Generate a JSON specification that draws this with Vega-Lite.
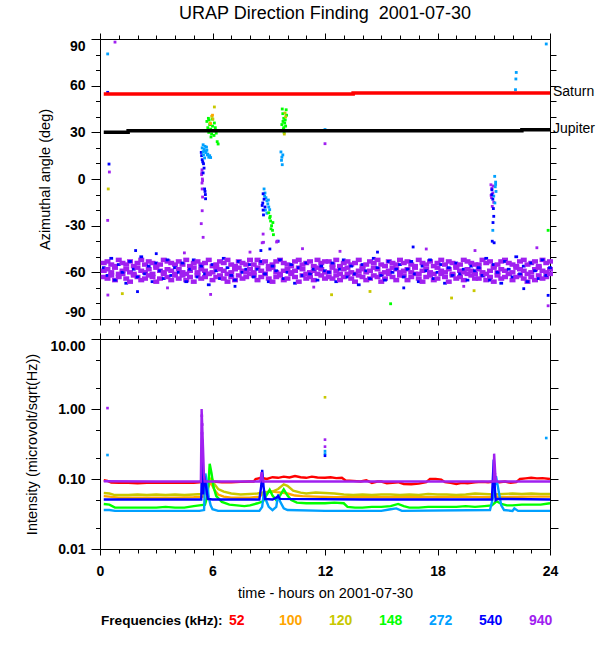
{
"$schema":"https://vega.github.io/schema/vega-lite/v6.json",
"autosize":{"type":"none"},
"padding":{"left":100,"top":39,"right":500,"bottom":611},
"datasets":{
"band":[
{"t":0.2,"a":-54,"f":"940"},{"t":0.2,"a":-59,"f":"940"},{"t":0.2,"a":-63,"f":"940"},{"t":0.2,"a":-57,"f":"540"},
{"t":0.4,"a":-53,"f":"940"},{"t":0.4,"a":-58,"f":"940"},{"t":0.4,"a":-64,"f":"940"},{"t":0.4,"a":-62,"f":"540"},
{"t":0.6,"a":-55,"f":"940"},{"t":0.6,"a":-60,"f":"940"},{"t":0.6,"a":-62,"f":"940"},{"t":0.6,"a":-51,"f":"540"},
{"t":0.8,"a":-56,"f":"940"},{"t":0.8,"a":-57,"f":"940"},{"t":0.8,"a":-65,"f":"940"},{"t":0.8,"a":-65,"f":"540"},
{"t":1.0,"a":-52,"f":"940"},{"t":1.0,"a":-61,"f":"940"},{"t":1.0,"a":-63,"f":"940"},{"t":1.0,"a":-55,"f":"540"},
{"t":1.2,"a":-54,"f":"940"},{"t":1.2,"a":-59,"f":"940"},{"t":1.2,"a":-61,"f":"940"},{"t":1.2,"a":-60,"f":"540"},
{"t":1.4,"a":-55,"f":"940"},{"t":1.4,"a":-58,"f":"940"},{"t":1.4,"a":-64,"f":"940"},{"t":1.4,"a":-67,"f":"540"},
{"t":1.6,"a":-53,"f":"940"},{"t":1.6,"a":-60,"f":"940"},{"t":1.6,"a":-66,"f":"940"},{"t":1.6,"a":-53,"f":"540"},
{"t":1.8,"a":-56,"f":"940"},{"t":1.8,"a":-61,"f":"940"},{"t":1.8,"a":-62,"f":"940"},{"t":1.8,"a":-58,"f":"540"},
{"t":2.0,"a":-54,"f":"940"},{"t":2.0,"a":-57,"f":"940"},{"t":2.0,"a":-63,"f":"940"},{"t":2.0,"a":-63,"f":"540"},
{"t":2.2,"a":-52,"f":"940"},{"t":2.2,"a":-59,"f":"940"},{"t":2.2,"a":-65,"f":"940"},{"t":2.2,"a":-50,"f":"540"},
{"t":2.4,"a":-55,"f":"940"},{"t":2.4,"a":-60,"f":"940"},{"t":2.4,"a":-64,"f":"940"},{"t":2.4,"a":-61,"f":"540"},
{"t":2.6,"a":-53,"f":"940"},{"t":2.6,"a":-58,"f":"940"},{"t":2.6,"a":-62,"f":"940"},{"t":2.6,"a":-56,"f":"540"},
{"t":2.8,"a":-54,"f":"940"},{"t":2.8,"a":-61,"f":"940"},{"t":2.8,"a":-63,"f":"940"},{"t":2.8,"a":-66,"f":"540"},
{"t":3.0,"a":-56,"f":"940"},{"t":3.0,"a":-57,"f":"940"},{"t":3.0,"a":-66,"f":"940"},{"t":3.0,"a":-54,"f":"540"},
{"t":3.2,"a":-55,"f":"940"},{"t":3.2,"a":-59,"f":"940"},{"t":3.2,"a":-64,"f":"940"},{"t":3.2,"a":-59,"f":"540"},
{"t":3.4,"a":-52,"f":"940"},{"t":3.4,"a":-60,"f":"940"},{"t":3.4,"a":-61,"f":"940"},{"t":3.4,"a":-64,"f":"540"},
{"t":3.6,"a":-53,"f":"940"},{"t":3.6,"a":-58,"f":"940"},{"t":3.6,"a":-63,"f":"940"},{"t":3.6,"a":-52,"f":"540"},
{"t":3.8,"a":-54,"f":"940"},{"t":3.8,"a":-59,"f":"940"},{"t":3.8,"a":-65,"f":"940"},{"t":3.8,"a":-62,"f":"540"},
{"t":4.0,"a":-55,"f":"940"},{"t":4.0,"a":-61,"f":"940"},{"t":4.0,"a":-62,"f":"940"},{"t":4.0,"a":-57,"f":"540"},
{"t":4.2,"a":-53,"f":"940"},{"t":4.2,"a":-58,"f":"940"},{"t":4.2,"a":-64,"f":"940"},{"t":4.2,"a":-60,"f":"540"},
{"t":4.4,"a":-55,"f":"940"},{"t":4.4,"a":-60,"f":"940"},{"t":4.4,"a":-62,"f":"940"},{"t":4.4,"a":-54,"f":"540"},
{"t":4.6,"a":-52,"f":"940"},{"t":4.6,"a":-61,"f":"940"},{"t":4.6,"a":-65,"f":"940"},{"t":4.6,"a":-66,"f":"540"},
{"t":4.8,"a":-56,"f":"940"},{"t":4.8,"a":-59,"f":"940"},{"t":4.8,"a":-63,"f":"940"},{"t":4.8,"a":-58,"f":"540"},
{"t":5.0,"a":-54,"f":"940"},{"t":5.0,"a":-57,"f":"940"},{"t":5.0,"a":-66,"f":"940"},{"t":5.0,"a":-52,"f":"540"},
{"t":5.2,"a":-53,"f":"940"},{"t":5.2,"a":-60,"f":"940"},{"t":5.2,"a":-62,"f":"940"},{"t":5.2,"a":-63,"f":"540"},
{"t":5.4,"a":-55,"f":"940"},{"t":5.4,"a":-58,"f":"940"},{"t":5.4,"a":-64,"f":"940"},{"t":5.4,"a":-56,"f":"540"},
{"t":5.6,"a":-54,"f":"940"},{"t":5.6,"a":-59,"f":"940"},{"t":5.6,"a":-63,"f":"940"},{"t":5.6,"a":-61,"f":"540"},
{"t":5.8,"a":-52,"f":"940"},{"t":5.8,"a":-61,"f":"940"},{"t":5.8,"a":-61,"f":"940"},{"t":5.8,"a":-68,"f":"540"},
{"t":6.0,"a":-56,"f":"940"},{"t":6.0,"a":-60,"f":"940"},{"t":6.0,"a":-65,"f":"940"},{"t":6.0,"a":-55,"f":"540"},
{"t":6.2,"a":-55,"f":"940"},{"t":6.2,"a":-57,"f":"940"},{"t":6.2,"a":-63,"f":"940"},{"t":6.2,"a":-59,"f":"540"},
{"t":6.4,"a":-53,"f":"940"},{"t":6.4,"a":-58,"f":"940"},{"t":6.4,"a":-62,"f":"940"},{"t":6.4,"a":-64,"f":"540"},
{"t":6.6,"a":-54,"f":"940"},{"t":6.6,"a":-59,"f":"940"},{"t":6.6,"a":-64,"f":"940"},{"t":6.6,"a":-51,"f":"540"},
{"t":6.8,"a":-52,"f":"940"},{"t":6.8,"a":-61,"f":"940"},{"t":6.8,"a":-66,"f":"940"},{"t":6.8,"a":-57,"f":"540"},
{"t":7.0,"a":-55,"f":"940"},{"t":7.0,"a":-60,"f":"940"},{"t":7.0,"a":-63,"f":"940"},{"t":7.0,"a":-62,"f":"540"},
{"t":7.2,"a":-56,"f":"940"},{"t":7.2,"a":-58,"f":"940"},{"t":7.2,"a":-65,"f":"940"},{"t":7.2,"a":-65,"f":"540"},
{"t":7.4,"a":-53,"f":"940"},{"t":7.4,"a":-57,"f":"940"},{"t":7.4,"a":-62,"f":"940"},{"t":7.4,"a":-53,"f":"540"},
{"t":7.6,"a":-54,"f":"940"},{"t":7.6,"a":-59,"f":"940"},{"t":7.6,"a":-64,"f":"940"},{"t":7.6,"a":-60,"f":"540"},
{"t":7.8,"a":-55,"f":"940"},{"t":7.8,"a":-60,"f":"940"},{"t":7.8,"a":-63,"f":"940"},{"t":7.8,"a":-58,"f":"540"},
{"t":8.0,"a":-52,"f":"940"},{"t":8.0,"a":-58,"f":"940"},{"t":8.0,"a":-61,"f":"940"},{"t":8.0,"a":-55,"f":"540"},
{"t":8.2,"a":-55,"f":"940"},{"t":8.2,"a":-60,"f":"940"},{"t":8.2,"a":-62,"f":"940"},{"t":8.2,"a":-63,"f":"540"},
{"t":8.4,"a":-52,"f":"940"},{"t":8.4,"a":-57,"f":"940"},{"t":8.4,"a":-65,"f":"940"},{"t":8.4,"a":-58,"f":"540"},
{"t":8.6,"a":-54,"f":"940"},{"t":8.6,"a":-59,"f":"940"},{"t":8.6,"a":-63,"f":"940"},{"t":8.6,"a":-53,"f":"540"},
{"t":8.8,"a":-53,"f":"940"},{"t":8.8,"a":-61,"f":"940"},{"t":8.8,"a":-61,"f":"940"},{"t":8.8,"a":-61,"f":"540"},
{"t":9.0,"a":-56,"f":"940"},{"t":9.0,"a":-58,"f":"940"},{"t":9.0,"a":-64,"f":"940"},{"t":9.0,"a":-66,"f":"540"},
{"t":9.2,"a":-55,"f":"940"},{"t":9.2,"a":-57,"f":"940"},{"t":9.2,"a":-66,"f":"940"},{"t":9.2,"a":-56,"f":"540"},
{"t":9.4,"a":-53,"f":"940"},{"t":9.4,"a":-60,"f":"940"},{"t":9.4,"a":-63,"f":"940"},{"t":9.4,"a":-59,"f":"540"},
{"t":9.6,"a":-52,"f":"940"},{"t":9.6,"a":-61,"f":"940"},{"t":9.6,"a":-62,"f":"940"},{"t":9.6,"a":-52,"f":"540"},
{"t":9.8,"a":-54,"f":"940"},{"t":9.8,"a":-59,"f":"940"},{"t":9.8,"a":-65,"f":"940"},{"t":9.8,"a":-64,"f":"540"},
{"t":10.0,"a":-55,"f":"940"},{"t":10.0,"a":-58,"f":"940"},{"t":10.0,"a":-64,"f":"940"},{"t":10.0,"a":-60,"f":"540"},
{"t":10.2,"a":-56,"f":"940"},{"t":10.2,"a":-60,"f":"940"},{"t":10.2,"a":-61,"f":"940"},{"t":10.2,"a":-55,"f":"540"},
{"t":10.4,"a":-53,"f":"940"},{"t":10.4,"a":-59,"f":"940"},{"t":10.4,"a":-63,"f":"940"},{"t":10.4,"a":-67,"f":"540"},
{"t":10.6,"a":-52,"f":"940"},{"t":10.6,"a":-57,"f":"940"},{"t":10.6,"a":-66,"f":"940"},{"t":10.6,"a":-57,"f":"540"},
{"t":10.8,"a":-55,"f":"940"},{"t":10.8,"a":-58,"f":"940"},{"t":10.8,"a":-62,"f":"940"},{"t":10.8,"a":-62,"f":"540"},
{"t":11.0,"a":-54,"f":"940"},{"t":11.0,"a":-61,"f":"940"},{"t":11.0,"a":-64,"f":"940"},{"t":11.0,"a":-54,"f":"540"},
{"t":11.2,"a":-53,"f":"940"},{"t":11.2,"a":-60,"f":"940"},{"t":11.2,"a":-63,"f":"940"},{"t":11.2,"a":-61,"f":"540"},
{"t":11.4,"a":-56,"f":"940"},{"t":11.4,"a":-59,"f":"940"},{"t":11.4,"a":-65,"f":"940"},{"t":11.4,"a":-58,"f":"540"},
{"t":11.6,"a":-52,"f":"940"},{"t":11.6,"a":-57,"f":"940"},{"t":11.6,"a":-61,"f":"940"},{"t":11.6,"a":-65,"f":"540"},
{"t":11.8,"a":-54,"f":"940"},{"t":11.8,"a":-58,"f":"940"},{"t":11.8,"a":-62,"f":"940"},{"t":11.8,"a":-56,"f":"540"},
{"t":12.0,"a":-53,"f":"940"},{"t":12.0,"a":-60,"f":"940"},{"t":12.0,"a":-64,"f":"940"},{"t":12.0,"a":-59,"f":"540"},
{"t":12.2,"a":-53,"f":"940"},{"t":12.2,"a":-60,"f":"940"},{"t":12.2,"a":-63,"f":"940"},{"t":12.2,"a":-60,"f":"540"},
{"t":12.4,"a":-55,"f":"940"},{"t":12.4,"a":-57,"f":"940"},{"t":12.4,"a":-64,"f":"940"},{"t":12.4,"a":-54,"f":"540"},
{"t":12.6,"a":-52,"f":"940"},{"t":12.6,"a":-59,"f":"940"},{"t":12.6,"a":-62,"f":"940"},{"t":12.6,"a":-66,"f":"540"},
{"t":12.8,"a":-56,"f":"940"},{"t":12.8,"a":-61,"f":"940"},{"t":12.8,"a":-65,"f":"940"},{"t":12.8,"a":-58,"f":"540"},
{"t":13.0,"a":-54,"f":"940"},{"t":13.0,"a":-58,"f":"940"},{"t":13.0,"a":-63,"f":"940"},{"t":13.0,"a":-52,"f":"540"},
{"t":13.2,"a":-53,"f":"940"},{"t":13.2,"a":-57,"f":"940"},{"t":13.2,"a":-61,"f":"940"},{"t":13.2,"a":-63,"f":"540"},
{"t":13.4,"a":-55,"f":"940"},{"t":13.4,"a":-60,"f":"940"},{"t":13.4,"a":-64,"f":"940"},{"t":13.4,"a":-56,"f":"540"},
{"t":13.6,"a":-54,"f":"940"},{"t":13.6,"a":-61,"f":"940"},{"t":13.6,"a":-66,"f":"940"},{"t":13.6,"a":-61,"f":"540"},
{"t":13.8,"a":-52,"f":"940"},{"t":13.8,"a":-59,"f":"940"},{"t":13.8,"a":-62,"f":"940"},{"t":13.8,"a":-68,"f":"540"},
{"t":14.0,"a":-56,"f":"940"},{"t":14.0,"a":-58,"f":"940"},{"t":14.0,"a":-63,"f":"940"},{"t":14.0,"a":-55,"f":"540"},
{"t":14.2,"a":-55,"f":"940"},{"t":14.2,"a":-60,"f":"940"},{"t":14.2,"a":-65,"f":"940"},{"t":14.2,"a":-59,"f":"540"},
{"t":14.4,"a":-53,"f":"940"},{"t":14.4,"a":-59,"f":"940"},{"t":14.4,"a":-64,"f":"940"},{"t":14.4,"a":-64,"f":"540"},
{"t":14.6,"a":-54,"f":"940"},{"t":14.6,"a":-57,"f":"940"},{"t":14.6,"a":-62,"f":"940"},{"t":14.6,"a":-51,"f":"540"},
{"t":14.8,"a":-52,"f":"940"},{"t":14.8,"a":-58,"f":"940"},{"t":14.8,"a":-63,"f":"940"},{"t":14.8,"a":-57,"f":"540"},
{"t":15.0,"a":-55,"f":"940"},{"t":15.0,"a":-61,"f":"940"},{"t":15.0,"a":-66,"f":"940"},{"t":15.0,"a":-62,"f":"540"},
{"t":15.2,"a":-56,"f":"940"},{"t":15.2,"a":-60,"f":"940"},{"t":15.2,"a":-64,"f":"940"},{"t":15.2,"a":-65,"f":"540"},
{"t":15.4,"a":-53,"f":"940"},{"t":15.4,"a":-59,"f":"940"},{"t":15.4,"a":-61,"f":"940"},{"t":15.4,"a":-53,"f":"540"},
{"t":15.6,"a":-54,"f":"940"},{"t":15.6,"a":-57,"f":"940"},{"t":15.6,"a":-63,"f":"940"},{"t":15.6,"a":-60,"f":"540"},
{"t":15.8,"a":-55,"f":"940"},{"t":15.8,"a":-58,"f":"940"},{"t":15.8,"a":-65,"f":"940"},{"t":15.8,"a":-58,"f":"540"},
{"t":16.0,"a":-52,"f":"940"},{"t":16.0,"a":-60,"f":"940"},{"t":16.0,"a":-62,"f":"940"},{"t":16.0,"a":-55,"f":"540"},
{"t":16.2,"a":-54,"f":"940"},{"t":16.2,"a":-59,"f":"940"},{"t":16.2,"a":-62,"f":"940"},{"t":16.2,"a":-63,"f":"540"},
{"t":16.4,"a":-53,"f":"940"},{"t":16.4,"a":-58,"f":"940"},{"t":16.4,"a":-65,"f":"940"},{"t":16.4,"a":-58,"f":"540"},
{"t":16.6,"a":-55,"f":"940"},{"t":16.6,"a":-60,"f":"940"},{"t":16.6,"a":-63,"f":"940"},{"t":16.6,"a":-53,"f":"540"},
{"t":16.8,"a":-56,"f":"940"},{"t":16.8,"a":-57,"f":"940"},{"t":16.8,"a":-61,"f":"940"},{"t":16.8,"a":-61,"f":"540"},
{"t":17.0,"a":-52,"f":"940"},{"t":17.0,"a":-61,"f":"940"},{"t":17.0,"a":-64,"f":"940"},{"t":17.0,"a":-66,"f":"540"},
{"t":17.2,"a":-54,"f":"940"},{"t":17.2,"a":-59,"f":"940"},{"t":17.2,"a":-66,"f":"940"},{"t":17.2,"a":-56,"f":"540"},
{"t":17.4,"a":-55,"f":"940"},{"t":17.4,"a":-58,"f":"940"},{"t":17.4,"a":-63,"f":"940"},{"t":17.4,"a":-59,"f":"540"},
{"t":17.6,"a":-53,"f":"940"},{"t":17.6,"a":-60,"f":"940"},{"t":17.6,"a":-62,"f":"940"},{"t":17.6,"a":-52,"f":"540"},
{"t":17.8,"a":-56,"f":"940"},{"t":17.8,"a":-61,"f":"940"},{"t":17.8,"a":-65,"f":"940"},{"t":17.8,"a":-64,"f":"540"},
{"t":18.0,"a":-54,"f":"940"},{"t":18.0,"a":-57,"f":"940"},{"t":18.0,"a":-64,"f":"940"},{"t":18.0,"a":-60,"f":"540"},
{"t":18.2,"a":-52,"f":"940"},{"t":18.2,"a":-59,"f":"940"},{"t":18.2,"a":-61,"f":"940"},{"t":18.2,"a":-55,"f":"540"},
{"t":18.4,"a":-55,"f":"940"},{"t":18.4,"a":-60,"f":"940"},{"t":18.4,"a":-63,"f":"940"},{"t":18.4,"a":-67,"f":"540"},
{"t":18.6,"a":-53,"f":"940"},{"t":18.6,"a":-58,"f":"940"},{"t":18.6,"a":-66,"f":"940"},{"t":18.6,"a":-57,"f":"540"},
{"t":18.8,"a":-54,"f":"940"},{"t":18.8,"a":-61,"f":"940"},{"t":18.8,"a":-62,"f":"940"},{"t":18.8,"a":-62,"f":"540"},
{"t":19.0,"a":-56,"f":"940"},{"t":19.0,"a":-57,"f":"940"},{"t":19.0,"a":-64,"f":"940"},{"t":19.0,"a":-54,"f":"540"},
{"t":19.2,"a":-55,"f":"940"},{"t":19.2,"a":-59,"f":"940"},{"t":19.2,"a":-63,"f":"940"},{"t":19.2,"a":-61,"f":"540"},
{"t":19.4,"a":-52,"f":"940"},{"t":19.4,"a":-60,"f":"940"},{"t":19.4,"a":-65,"f":"940"},{"t":19.4,"a":-58,"f":"540"},
{"t":19.6,"a":-53,"f":"940"},{"t":19.6,"a":-58,"f":"940"},{"t":19.6,"a":-61,"f":"940"},{"t":19.6,"a":-65,"f":"540"},
{"t":19.8,"a":-54,"f":"940"},{"t":19.8,"a":-59,"f":"940"},{"t":19.8,"a":-62,"f":"940"},{"t":19.8,"a":-56,"f":"540"},
{"t":20.0,"a":-55,"f":"940"},{"t":20.0,"a":-61,"f":"940"},{"t":20.0,"a":-64,"f":"940"},{"t":20.0,"a":-59,"f":"540"},
{"t":20.2,"a":-55,"f":"940"},{"t":20.2,"a":-58,"f":"940"},{"t":20.2,"a":-64,"f":"940"},{"t":20.2,"a":-57,"f":"540"},
{"t":20.4,"a":-52,"f":"940"},{"t":20.4,"a":-60,"f":"940"},{"t":20.4,"a":-62,"f":"940"},{"t":20.4,"a":-62,"f":"540"},
{"t":20.6,"a":-54,"f":"940"},{"t":20.6,"a":-61,"f":"940"},{"t":20.6,"a":-65,"f":"940"},{"t":20.6,"a":-51,"f":"540"},
{"t":20.8,"a":-53,"f":"940"},{"t":20.8,"a":-59,"f":"940"},{"t":20.8,"a":-63,"f":"940"},{"t":20.8,"a":-65,"f":"540"},
{"t":21.0,"a":-56,"f":"940"},{"t":21.0,"a":-57,"f":"940"},{"t":21.0,"a":-66,"f":"940"},{"t":21.0,"a":-55,"f":"540"},
{"t":21.2,"a":-55,"f":"940"},{"t":21.2,"a":-60,"f":"940"},{"t":21.2,"a":-62,"f":"940"},{"t":21.2,"a":-60,"f":"540"},
{"t":21.4,"a":-53,"f":"940"},{"t":21.4,"a":-58,"f":"940"},{"t":21.4,"a":-64,"f":"940"},{"t":21.4,"a":-67,"f":"540"},
{"t":21.6,"a":-52,"f":"940"},{"t":21.6,"a":-59,"f":"940"},{"t":21.6,"a":-63,"f":"940"},{"t":21.6,"a":-53,"f":"540"},
{"t":21.8,"a":-54,"f":"940"},{"t":21.8,"a":-61,"f":"940"},{"t":21.8,"a":-61,"f":"940"},{"t":21.8,"a":-58,"f":"540"},
{"t":22.0,"a":-55,"f":"940"},{"t":22.0,"a":-60,"f":"940"},{"t":22.0,"a":-65,"f":"940"},{"t":22.0,"a":-63,"f":"540"},
{"t":22.2,"a":-56,"f":"940"},{"t":22.2,"a":-57,"f":"940"},{"t":22.2,"a":-63,"f":"940"},{"t":22.2,"a":-50,"f":"540"},
{"t":22.4,"a":-53,"f":"940"},{"t":22.4,"a":-58,"f":"940"},{"t":22.4,"a":-62,"f":"940"},{"t":22.4,"a":-61,"f":"540"},
{"t":22.6,"a":-52,"f":"940"},{"t":22.6,"a":-59,"f":"940"},{"t":22.6,"a":-64,"f":"940"},{"t":22.6,"a":-56,"f":"540"},
{"t":22.8,"a":-55,"f":"940"},{"t":22.8,"a":-61,"f":"940"},{"t":22.8,"a":-66,"f":"940"},{"t":22.8,"a":-66,"f":"540"},
{"t":23.0,"a":-54,"f":"940"},{"t":23.0,"a":-60,"f":"940"},{"t":23.0,"a":-63,"f":"940"},{"t":23.0,"a":-54,"f":"540"},
{"t":23.2,"a":-53,"f":"940"},{"t":23.2,"a":-58,"f":"940"},{"t":23.2,"a":-65,"f":"940"},{"t":23.2,"a":-59,"f":"540"},
{"t":23.4,"a":-56,"f":"940"},{"t":23.4,"a":-57,"f":"940"},{"t":23.4,"a":-62,"f":"940"},{"t":23.4,"a":-64,"f":"540"},
{"t":23.6,"a":-52,"f":"940"},{"t":23.6,"a":-59,"f":"940"},{"t":23.6,"a":-64,"f":"940"},{"t":23.6,"a":-52,"f":"540"},
{"t":23.8,"a":-54,"f":"940"},{"t":23.8,"a":-60,"f":"940"},{"t":23.8,"a":-63,"f":"940"},{"t":23.8,"a":-62,"f":"540"},
{"t":24.0,"a":-53,"f":"940"},{"t":24.0,"a":-58,"f":"940"},{"t":24.0,"a":-61,"f":"940"},{"t":24.0,"a":-57,"f":"540"}
],
"ev":[
{"t":0.41,"a":80.4,"f":"272"},{"t":0.8,"a":88,"f":"940"},{"t":0.41,"a":55.7,"f":"540"},{"t":0.48,"a":9.6,"f":"540"},{"t":0.5,"a":4.5,"f":"940"},{"t":0.44,"a":-6.4,"f":"120"},{"t":0.41,"a":-26.6,"f":"940"},
{"t":5.44,"a":5.9,"f":"940"},{"t":5.42,"a":2.8,"f":"940"},{"t":5.46,"a":0,"f":"940"},{"t":5.44,"a":-2.6,"f":"940"},{"t":5.45,"a":-6.4,"f":"940"},{"t":5.47,"a":-11.6,"f":"940"},{"t":5.45,"a":-20.4,"f":"940"},{"t":5.4,"a":-28.7,"f":"940"},{"t":5.5,"a":-37.5,"f":"940"},{"t":5.43,"a":4,"f":"940"},{"t":5.47,"a":-1,"f":"940"},
{"t":5.4,"a":17.1,"f":"540"},{"t":5.45,"a":12.4,"f":"540"},{"t":5.52,"a":9.8,"f":"540"},{"t":5.55,"a":7,"f":"540"},{"t":5.5,"a":3.9,"f":"540"},{"t":5.58,"a":-6.4,"f":"540"},{"t":5.62,"a":-10,"f":"540"},{"t":5.6,"a":-8,"f":"540"},{"t":5.63,"a":-12.7,"f":"540"},{"t":5.42,"a":15,"f":"540"},{"t":5.48,"a":11,"f":"540"},
{"t":5.45,"a":20,"f":"272"},{"t":5.5,"a":22,"f":"272"},{"t":5.55,"a":19,"f":"272"},{"t":5.6,"a":21,"f":"272"},{"t":5.65,"a":17,"f":"272"},{"t":5.7,"a":18.5,"f":"272"},{"t":5.75,"a":16,"f":"272"},{"t":5.8,"a":14,"f":"272"},{"t":5.52,"a":15.5,"f":"272"},{"t":5.58,"a":13.5,"f":"272"},{"t":5.68,"a":20.5,"f":"272"},{"t":5.85,"a":15,"f":"272"},{"t":5.9,"a":13.8,"f":"272"},{"t":5.62,"a":18,"f":"272"},{"t":5.72,"a":15.5,"f":"272"},{"t":5.5,"a":17.5,"f":"272"},
{"t":5.7,"a":37,"f":"148"},{"t":5.75,"a":33,"f":"148"},{"t":5.8,"a":30,"f":"148"},{"t":5.85,"a":35,"f":"148"},{"t":5.9,"a":32,"f":"148"},{"t":5.95,"a":29,"f":"148"},{"t":6.0,"a":34,"f":"148"},{"t":6.05,"a":31,"f":"148"},{"t":6.1,"a":36,"f":"148"},{"t":6.15,"a":33,"f":"148"},{"t":6.2,"a":29.5,"f":"148"},{"t":5.82,"a":38,"f":"148"},{"t":5.92,"a":27,"f":"148"},{"t":6.25,"a":24,"f":"148"},{"t":6.3,"a":22.5,"f":"148"},{"t":5.78,"a":39,"f":"148"},{"t":6.0,"a":38.5,"f":"148"},{"t":6.08,"a":28,"f":"148"},
{"t":6.1,"a":46.3,"f":"120"},{"t":5.96,"a":40.3,"f":"120"},{"t":5.87,"a":36,"f":"120"},{"t":6.02,"a":38.5,"f":"120"},
{"t":5.9,"a":35.6,"f":"100"},{"t":6.0,"a":41,"f":"100"},
{"t":8.75,"a":-6.4,"f":"272"},{"t":8.8,"a":-9,"f":"272"},{"t":8.85,"a":-12,"f":"272"},{"t":8.9,"a":-14,"f":"272"},{"t":8.95,"a":-16,"f":"272"},{"t":9.0,"a":-18,"f":"272"},{"t":9.05,"a":-19.7,"f":"272"},{"t":8.82,"a":-20,"f":"272"},{"t":8.9,"a":-22,"f":"272"},{"t":8.78,"a":-11,"f":"272"},{"t":8.98,"a":-13.5,"f":"272"},
{"t":8.7,"a":-9.5,"f":"540"},{"t":8.68,"a":-15.4,"f":"540"},{"t":8.72,"a":-23.1,"f":"540"},{"t":8.75,"a":-13,"f":"540"},{"t":8.8,"a":-18,"f":"540"},{"t":8.7,"a":-20,"f":"540"},{"t":8.58,"a":-46,"f":"540"},{"t":9.06,"a":-45,"f":"540"},{"t":8.65,"a":-17,"f":"540"},{"t":9.5,"a":-40,"f":"540"},
{"t":9.0,"a":-21.7,"f":"148"},{"t":9.05,"a":-25,"f":"148"},{"t":9.1,"a":-27,"f":"148"},{"t":9.15,"a":-30,"f":"148"},{"t":9.2,"a":-33,"f":"148"},{"t":9.25,"a":-35.8,"f":"148"},{"t":9.12,"a":-32,"f":"148"},{"t":9.08,"a":-24,"f":"148"},{"t":9.22,"a":-28,"f":"148"},
{"t":8.7,"a":-35.4,"f":"940"},{"t":8.72,"a":-40.7,"f":"940"},{"t":9.45,"a":-40,"f":"940"},{"t":8.65,"a":-41,"f":"940"},{"t":9.42,"a":-40.5,"f":"940"},
{"t":9.72,"a":45,"f":"148"},{"t":9.75,"a":42,"f":"148"},{"t":9.8,"a":39,"f":"148"},{"t":9.85,"a":36,"f":"148"},{"t":9.9,"a":34,"f":"148"},{"t":9.78,"a":32,"f":"148"},{"t":9.82,"a":30,"f":"148"},{"t":9.88,"a":38,"f":"148"},{"t":9.95,"a":41,"f":"148"},{"t":9.7,"a":35,"f":"148"},{"t":9.76,"a":37,"f":"148"},{"t":9.93,"a":44.5,"f":"148"},{"t":9.8,"a":33,"f":"148"},
{"t":9.87,"a":42.4,"f":"120"},{"t":9.83,"a":28.9,"f":"120"},{"t":9.9,"a":40,"f":"120"},
{"t":9.65,"a":17.4,"f":"272"},{"t":9.7,"a":14,"f":"272"},{"t":9.68,"a":12,"f":"272"},{"t":9.72,"a":9.2,"f":"272"},{"t":9.75,"a":15.5,"f":"272"},
{"t":12.0,"a":31.8,"f":"272"},{"t":12.0,"a":22.7,"f":"940"},
{"t":20.85,"a":-3.7,"f":"940"},{"t":20.9,"a":-6,"f":"940"},{"t":20.95,"a":-9,"f":"940"},{"t":20.88,"a":-12,"f":"940"},{"t":21.0,"a":-15,"f":"940"},{"t":20.92,"a":-17.6,"f":"940"},{"t":20.97,"a":-4.5,"f":"940"},{"t":20.86,"a":-10.5,"f":"940"},
{"t":21.05,"a":1.7,"f":"272"},{"t":21.1,"a":-2,"f":"272"},{"t":21.08,"a":-5,"f":"272"},{"t":21.12,"a":-8,"f":"272"},{"t":21.0,"a":-11,"f":"272"},{"t":21.06,"a":-15.4,"f":"272"},{"t":20.95,"a":-33,"f":"272"},{"t":21.1,"a":-3.5,"f":"272"},
{"t":20.9,"a":-6.9,"f":"540"},{"t":20.95,"a":-13,"f":"540"},{"t":20.98,"a":-19,"f":"540"},{"t":21.0,"a":-24,"f":"540"},{"t":20.96,"a":-28,"f":"540"},{"t":21.02,"a":-41,"f":"540"},{"t":20.92,"a":-40,"f":"540"},{"t":20.9,"a":-10,"f":"540"},
{"t":22.2,"a":68.5,"f":"272"},{"t":22.18,"a":64.3,"f":"272"},{"t":22.16,"a":57.4,"f":"272"},{"t":23.8,"a":86.8,"f":"272"},{"t":23.9,"a":-33,"f":"148"},
{"t":1.19,"a":-73.7,"f":"120"},{"t":0.42,"a":-74.6,"f":"940"},{"t":2.0,"a":-72.4,"f":"540"},{"t":5.9,"a":-74.2,"f":"940"},{"t":12.35,"a":-74.4,"f":"120"},{"t":14.4,"a":-72.3,"f":"120"},{"t":15.5,"a":-80.2,"f":"148"},{"t":18.75,"a":-76.5,"f":"120"},{"t":19.95,"a":-71.8,"f":"120"},{"t":23.9,"a":-74.8,"f":"540"},{"t":23.9,"a":-81.5,"f":"940"},
{"t":17.4,"a":-45,"f":"940"},{"t":16.7,"a":-43.7,"f":"540"},{"t":10.8,"a":-44.8,"f":"940"},{"t":23.3,"a":-44.2,"f":"940"},{"t":3.0,"a":-48,"f":"540"},{"t":1.9,"a":-46,"f":"540"},{"t":8.0,"a":-47,"f":"940"},{"t":4.5,"a":-47.5,"f":"940"},{"t":12.8,"a":-46.5,"f":"940"},{"t":20.0,"a":-46,"f":"940"},{"t":14.8,"a":-47,"f":"540"},
{"t":7.2,"a":-69,"f":"540"},{"t":3.6,"a":-70,"f":"940"},{"t":11.4,"a":-69.5,"f":"940"},{"t":16.2,"a":-70,"f":"540"},{"t":19.4,"a":-69,"f":"940"},{"t":22.6,"a":-70.5,"f":"540"}
],
"sat":[{"t":0.2,"a":54.7},{"t":13.5,"a":54.7},{"t":13.5,"a":55.3},{"t":24,"a":55.3}],
"jup":[{"t":0.2,"a":30.1},{"t":1.5,"a":30.1},{"t":1.5,"a":31.0},{"t":22.5,"a":31.0},{"t":22.5,"a":31.6},{"t":24,"a":31.6}],
"pl":[{"t":24,"a":55.3,"l":"Saturn"},{"t":24,"a":31.6,"l":"Jupiter"}],
"int":[
{"t":0.2,"v":0.096,"f":"52"},{"t":0.4,"v":0.094,"f":"52"},{"t":0.6,"v":0.089,"f":"52"},{"t":1,"v":0.088,"f":"52"},{"t":1.5,"v":0.088,"f":"52"},{"t":2,"v":0.087,"f":"52"},{"t":2.5,"v":0.088,"f":"52"},{"t":3,"v":0.088,"f":"52"},{"t":3.5,"v":0.089,"f":"52"},{"t":4,"v":0.088,"f":"52"},{"t":4.5,"v":0.089,"f":"52"},{"t":5,"v":0.088,"f":"52"},{"t":5.3,"v":0.09,"f":"52"},{"t":5.6,"v":0.095,"f":"52"},{"t":5.8,"v":0.09,"f":"52"},{"t":6,"v":0.092,"f":"52"},{"t":6.5,"v":0.09,"f":"52"},{"t":7,"v":0.09,"f":"52"},{"t":7.5,"v":0.091,"f":"52"},{"t":8,"v":0.092,"f":"52"},{"t":8.2,"v":0.092,"f":"52"},{"t":8.3,"v":0.1,"f":"52"},{"t":8.6,"v":0.104,"f":"52"},{"t":8.9,"v":0.1,"f":"52"},{"t":9.2,"v":0.106,"f":"52"},{"t":9.5,"v":0.104,"f":"52"},{"t":9.8,"v":0.108,"f":"52"},{"t":10.1,"v":0.105,"f":"52"},{"t":10.4,"v":0.11,"f":"52"},{"t":10.7,"v":0.106,"f":"52"},{"t":11,"v":0.104,"f":"52"},{"t":11.3,"v":0.108,"f":"52"},{"t":11.6,"v":0.105,"f":"52"},{"t":12,"v":0.104,"f":"52"},{"t":12.3,"v":0.106,"f":"52"},{"t":12.6,"v":0.103,"f":"52"},{"t":12.9,"v":0.104,"f":"52"},{"t":13.1,"v":0.095,"f":"52"},{"t":13.5,"v":0.094,"f":"52"},{"t":13.9,"v":0.092,"f":"52"},{"t":14.2,"v":0.096,"f":"52"},{"t":14.5,"v":0.088,"f":"52"},{"t":14.8,"v":0.092,"f":"52"},{"t":15,"v":0.092,"f":"52"},{"t":15.3,"v":0.087,"f":"52"},{"t":15.6,"v":0.088,"f":"52"},{"t":15.9,"v":0.09,"f":"52"},{"t":16.2,"v":0.085,"f":"52"},{"t":16.6,"v":0.084,"f":"52"},{"t":17,"v":0.086,"f":"52"},{"t":17.4,"v":0.09,"f":"52"},{"t":17.6,"v":0.1,"f":"52"},{"t":17.9,"v":0.1,"f":"52"},{"t":18.2,"v":0.098,"f":"52"},{"t":18.4,"v":0.09,"f":"52"},{"t":18.7,"v":0.088,"f":"52"},{"t":19,"v":0.085,"f":"52"},{"t":19.3,"v":0.088,"f":"52"},{"t":19.6,"v":0.087,"f":"52"},{"t":20,"v":0.09,"f":"52"},{"t":20.4,"v":0.091,"f":"52"},{"t":20.7,"v":0.09,"f":"52"},{"t":21,"v":0.092,"f":"52"},{"t":21.3,"v":0.09,"f":"52"},{"t":21.6,"v":0.092,"f":"52"},{"t":21.9,"v":0.088,"f":"52"},{"t":22.2,"v":0.09,"f":"52"},{"t":22.4,"v":0.1,"f":"52"},{"t":22.7,"v":0.102,"f":"52"},{"t":23,"v":0.104,"f":"52"},{"t":23.3,"v":0.102,"f":"52"},{"t":23.6,"v":0.103,"f":"52"},{"t":24,"v":0.1,"f":"52"},
{"t":0.2,"v":0.057,"f":"100"},{"t":0.5,"v":0.056,"f":"100"},{"t":1,"v":0.054,"f":"100"},{"t":2,"v":0.054,"f":"100"},{"t":3,"v":0.054,"f":"100"},{"t":4,"v":0.054,"f":"100"},{"t":5,"v":0.055,"f":"100"},{"t":5.5,"v":0.056,"f":"100"},{"t":5.7,"v":0.07,"f":"100"},{"t":5.9,"v":0.09,"f":"100"},{"t":6.1,"v":0.07,"f":"100"},{"t":6.3,"v":0.06,"f":"100"},{"t":6.6,"v":0.056,"f":"100"},{"t":7,"v":0.054,"f":"100"},{"t":8,"v":0.054,"f":"100"},{"t":8.5,"v":0.056,"f":"100"},{"t":8.8,"v":0.064,"f":"100"},{"t":9.1,"v":0.067,"f":"100"},{"t":9.4,"v":0.065,"f":"100"},{"t":9.7,"v":0.064,"f":"100"},{"t":10,"v":0.062,"f":"100"},{"t":10.4,"v":0.058,"f":"100"},{"t":10.8,"v":0.057,"f":"100"},{"t":11.5,"v":0.056,"f":"100"},{"t":12.5,"v":0.055,"f":"100"},{"t":14,"v":0.055,"f":"100"},{"t":16,"v":0.055,"f":"100"},{"t":18,"v":0.055,"f":"100"},{"t":19,"v":0.056,"f":"100"},{"t":20.8,"v":0.055,"f":"100"},{"t":21,"v":0.057,"f":"100"},{"t":21.3,"v":0.055,"f":"100"},{"t":23,"v":0.056,"f":"100"},{"t":24,"v":0.056,"f":"100"},
{"t":0.2,"v":0.063,"f":"120"},{"t":0.5,"v":0.062,"f":"120"},{"t":0.8,"v":0.059,"f":"120"},{"t":1.5,"v":0.059,"f":"120"},{"t":2,"v":0.06,"f":"120"},{"t":2.5,"v":0.059,"f":"120"},{"t":3,"v":0.06,"f":"120"},{"t":3.5,"v":0.059,"f":"120"},{"t":4,"v":0.06,"f":"120"},{"t":4.5,"v":0.059,"f":"120"},{"t":5,"v":0.06,"f":"120"},{"t":5.4,"v":0.061,"f":"120"},{"t":5.7,"v":0.08,"f":"120"},{"t":5.95,"v":0.104,"f":"120"},{"t":6.1,"v":0.085,"f":"120"},{"t":6.3,"v":0.072,"f":"120"},{"t":6.6,"v":0.066,"f":"120"},{"t":7,"v":0.062,"f":"120"},{"t":7.5,"v":0.06,"f":"120"},{"t":8,"v":0.061,"f":"120"},{"t":8.4,"v":0.062,"f":"120"},{"t":8.8,"v":0.065,"f":"120"},{"t":9.2,"v":0.066,"f":"120"},{"t":9.5,"v":0.072,"f":"120"},{"t":9.8,"v":0.084,"f":"120"},{"t":10,"v":0.08,"f":"120"},{"t":10.3,"v":0.068,"f":"120"},{"t":10.7,"v":0.064,"f":"120"},{"t":11,"v":0.062,"f":"120"},{"t":11.5,"v":0.064,"f":"120"},{"t":12,"v":0.063,"f":"120"},{"t":12.5,"v":0.062,"f":"120"},{"t":13,"v":0.06,"f":"120"},{"t":13.5,"v":0.059,"f":"120"},{"t":14,"v":0.06,"f":"120"},{"t":14.5,"v":0.059,"f":"120"},{"t":15,"v":0.06,"f":"120"},{"t":15.5,"v":0.06,"f":"120"},{"t":16,"v":0.059,"f":"120"},{"t":16.5,"v":0.06,"f":"120"},{"t":17,"v":0.059,"f":"120"},{"t":17.5,"v":0.061,"f":"120"},{"t":18,"v":0.06,"f":"120"},{"t":18.5,"v":0.06,"f":"120"},{"t":19,"v":0.059,"f":"120"},{"t":19.5,"v":0.06,"f":"120"},{"t":20,"v":0.062,"f":"120"},{"t":20.5,"v":0.061,"f":"120"},{"t":21,"v":0.06,"f":"120"},{"t":21.5,"v":0.061,"f":"120"},{"t":22,"v":0.062,"f":"120"},{"t":22.5,"v":0.061,"f":"120"},{"t":23,"v":0.062,"f":"120"},{"t":23.5,"v":0.061,"f":"120"},{"t":24,"v":0.061,"f":"120"},
{"t":0.2,"v":0.044,"f":"148"},{"t":0.5,"v":0.043,"f":"148"},{"t":0.8,"v":0.039,"f":"148"},{"t":1.5,"v":0.039,"f":"148"},{"t":2,"v":0.039,"f":"148"},{"t":2.5,"v":0.039,"f":"148"},{"t":3,"v":0.039,"f":"148"},{"t":3.5,"v":0.04,"f":"148"},{"t":4,"v":0.039,"f":"148"},{"t":4.5,"v":0.039,"f":"148"},{"t":5,"v":0.041,"f":"148"},{"t":5.3,"v":0.042,"f":"148"},{"t":5.6,"v":0.043,"f":"148"},{"t":5.75,"v":0.06,"f":"148"},{"t":5.85,"v":0.165,"f":"148"},{"t":5.95,"v":0.12,"f":"148"},{"t":6.05,"v":0.078,"f":"148"},{"t":6.2,"v":0.057,"f":"148"},{"t":6.5,"v":0.047,"f":"148"},{"t":6.9,"v":0.043,"f":"148"},{"t":7.3,"v":0.042,"f":"148"},{"t":7.7,"v":0.041,"f":"148"},{"t":8,"v":0.042,"f":"148"},{"t":8.4,"v":0.045,"f":"148"},{"t":8.7,"v":0.048,"f":"148"},{"t":8.9,"v":0.06,"f":"148"},{"t":9.05,"v":0.07,"f":"148"},{"t":9.2,"v":0.058,"f":"148"},{"t":9.4,"v":0.05,"f":"148"},{"t":9.6,"v":0.058,"f":"148"},{"t":9.8,"v":0.071,"f":"148"},{"t":10,"v":0.058,"f":"148"},{"t":10.2,"v":0.05,"f":"148"},{"t":10.5,"v":0.046,"f":"148"},{"t":11,"v":0.045,"f":"148"},{"t":11.5,"v":0.045,"f":"148"},{"t":12,"v":0.045,"f":"148"},{"t":12.5,"v":0.046,"f":"148"},{"t":13,"v":0.045,"f":"148"},{"t":13.2,"v":0.04,"f":"148"},{"t":13.6,"v":0.039,"f":"148"},{"t":14,"v":0.039,"f":"148"},{"t":14.5,"v":0.04,"f":"148"},{"t":15,"v":0.04,"f":"148"},{"t":15.5,"v":0.041,"f":"148"},{"t":15.9,"v":0.044,"f":"148"},{"t":16.2,"v":0.041,"f":"148"},{"t":16.5,"v":0.039,"f":"148"},{"t":17,"v":0.039,"f":"148"},{"t":17.5,"v":0.04,"f":"148"},{"t":18,"v":0.04,"f":"148"},{"t":18.5,"v":0.04,"f":"148"},{"t":19,"v":0.04,"f":"148"},{"t":19.5,"v":0.041,"f":"148"},{"t":20,"v":0.04,"f":"148"},{"t":20.5,"v":0.041,"f":"148"},{"t":20.9,"v":0.042,"f":"148"},{"t":21.15,"v":0.048,"f":"148"},{"t":21.4,"v":0.044,"f":"148"},{"t":21.7,"v":0.042,"f":"148"},{"t":22,"v":0.042,"f":"148"},{"t":22.5,"v":0.043,"f":"148"},{"t":23,"v":0.043,"f":"148"},{"t":23.5,"v":0.043,"f":"148"},{"t":24,"v":0.045,"f":"148"},
{"t":0.2,"v":0.036,"f":"272"},{"t":0.5,"v":0.036,"f":"272"},{"t":0.8,"v":0.035,"f":"272"},{"t":2.5,"v":0.035,"f":"272"},{"t":4.5,"v":0.035,"f":"272"},{"t":5.3,"v":0.035,"f":"272"},{"t":5.55,"v":0.036,"f":"272"},{"t":5.62,"v":0.12,"f":"272"},{"t":5.7,"v":0.09,"f":"272"},{"t":5.8,"v":0.055,"f":"272"},{"t":5.9,"v":0.042,"f":"272"},{"t":6,"v":0.037,"f":"272"},{"t":6.3,"v":0.035,"f":"272"},{"t":8.5,"v":0.035,"f":"272"},{"t":8.65,"v":0.04,"f":"272"},{"t":8.75,"v":0.068,"f":"272"},{"t":8.85,"v":0.05,"f":"272"},{"t":9,"v":0.04,"f":"272"},{"t":9.2,"v":0.036,"f":"272"},{"t":9.4,"v":0.04,"f":"272"},{"t":9.5,"v":0.06,"f":"272"},{"t":9.6,"v":0.048,"f":"272"},{"t":9.8,"v":0.038,"f":"272"},{"t":10,"v":0.036,"f":"272"},{"t":12,"v":0.035,"f":"272"},{"t":15,"v":0.035,"f":"272"},{"t":15.5,"v":0.037,"f":"272"},{"t":15.8,"v":0.038,"f":"272"},{"t":16.1,"v":0.035,"f":"272"},{"t":20.8,"v":0.036,"f":"272"},{"t":21,"v":0.06,"f":"272"},{"t":21.12,"v":0.11,"f":"272"},{"t":21.25,"v":0.07,"f":"272"},{"t":21.4,"v":0.042,"f":"272"},{"t":21.55,"v":0.036,"f":"272"},{"t":22,"v":0.035,"f":"272"},{"t":22.1,"v":0.038,"f":"272"},{"t":22.3,"v":0.035,"f":"272"},{"t":24,"v":0.035,"f":"272"},
{"t":0.2,"v":0.051,"f":"540"},{"t":5.4,"v":0.051,"f":"540"},{"t":5.45,"v":0.2,"f":"540"},{"t":5.5,"v":0.06,"f":"540"},{"t":5.55,"v":0.11,"f":"540"},{"t":5.65,"v":0.08,"f":"540"},{"t":5.75,"v":0.052,"f":"540"},{"t":6,"v":0.051,"f":"540"},{"t":8.5,"v":0.051,"f":"540"},{"t":8.6,"v":0.08,"f":"540"},{"t":8.65,"v":0.135,"f":"540"},{"t":8.72,"v":0.08,"f":"540"},{"t":8.8,"v":0.052,"f":"540"},{"t":9.2,"v":0.051,"f":"540"},{"t":9.45,"v":0.055,"f":"540"},{"t":9.5,"v":0.057,"f":"540"},{"t":9.6,"v":0.052,"f":"540"},{"t":14,"v":0.051,"f":"540"},{"t":20.9,"v":0.051,"f":"540"},{"t":21,"v":0.19,"f":"540"},{"t":21.05,"v":0.08,"f":"540"},{"t":21.1,"v":0.05,"f":"540"},{"t":21.2,"v":0.052,"f":"540"},{"t":24,"v":0.051,"f":"540"},
{"t":0.2,"v":0.093,"f":"940"},{"t":3,"v":0.092,"f":"940"},{"t":5.38,"v":0.092,"f":"940"},{"t":5.42,"v":1.0,"f":"940"},{"t":5.46,"v":0.5,"f":"940"},{"t":5.5,"v":0.25,"f":"940"},{"t":5.54,"v":0.12,"f":"940"},{"t":5.58,"v":0.092,"f":"940"},{"t":8.55,"v":0.092,"f":"940"},{"t":8.62,"v":0.125,"f":"940"},{"t":8.7,"v":0.092,"f":"940"},{"t":21,"v":0.092,"f":"940"},{"t":21.02,"v":0.23,"f":"940"},{"t":21.08,"v":0.12,"f":"940"},{"t":21.12,"v":0.092,"f":"940"},{"t":24,"v":0.092,"f":"940"}
],
"ipt":[
{"t":0.4,"v":1.03,"f":"940"},{"t":0.4,"v":0.22,"f":"272"},{"t":12.0,"v":1.47,"f":"120"},{"t":12.0,"v":0.365,"f":"940"},{"t":12.0,"v":0.29,"f":"940"},{"t":12.0,"v":0.25,"f":"272"},{"t":12.0,"v":0.23,"f":"272"},{"t":12.0,"v":0.215,"f":"540"},{"t":23.8,"v":0.385,"f":"272"},
{"t":5.43,"v":0.8,"f":"940"},{"t":5.45,"v":0.6,"f":"940"},{"t":5.44,"v":0.45,"f":"940"},{"t":5.46,"v":0.35,"f":"940"},{"t":5.47,"v":0.27,"f":"940"}
]
},
"bounds":"flush",
"spacing":20,
"resolve":{"scale":{"color":"shared"},"legend":{"color":"shared"}},
"vconcat":[
{
"width":450,"height":280,
"title":{"text":"URAP Direction Finding \u00a02001-07-30","frame":"group","anchor":"middle","offset":10,"fontSize":18,"fontWeight":"normal","font":"Liberation Sans","color":"#000000"},
"layer":[
{"data":{"name":"band"},"mark":{"type":"point","shape":"M-1,-0.75H1V0.75H-1Z","filled":true,"opacity":1,"strokeWidth":0},
"encoding":{
"x":{"field":"t","type":"quantitative","scale":{"domain":[0,24],"nice":false,"zero":false},"axis":{"orient":"bottom","values":[0,1,2,3,4,5,6,7,8,9,10,11,12,13,14,15,16,17,18,19,20,21,22,23,24],"labels":false,"title":null,"tickSize":{"condition":{"test":"datum.value % 6 === 0","value":6},"value":4}}},
"y":{"field":"a","type":"quantitative","scale":{"domain":[-90,90],"nice":false,"zero":false},"axis":{"orient":"left","values":[-90,-80,-70,-60,-50,-40,-30,-20,-10,0,10,20,30,40,50,60,70,80,90],"labelExpr":"datum.value % 30 === 0 ? '' + datum.value : ''","labelFlush":true,"labelPadding":6,"tickSize":{"condition":{"test":"datum.value % 30 === 0","value":9},"value":4.5},"title":"Azimuthal angle (deg)","titleX":-55,"titleY":140,"titleBaseline":"middle","titleAngle":-90,"titleAlign":"center"}},
"size":{"condition":{"test":"datum.f === '540'","value":14},"value":36},
"color":{"field":"f","type":"nominal","scale":{"domain":["52","100","120","148","272","540","940"],"range":["#ff0000","#ffa500","#c8c800","#00ff00","#00a0ff","#0000ff","#a020f0"]},
"legend":{"orient":"none","legendX":1,"legendY":575,"direction":"horizontal","columns":7,"title":"Frequencies (kHz):","titleOrient":"left","titleFontSize":13.6,"titleFontWeight":"bold","titleFont":"Liberation Sans","titleColor":"#000000","titlePadding":-8,"labelFontSize":14,"labelFontWeight":"bold","labelFont":"Liberation Sans","symbolSize":1,"symbolStrokeWidth":0,"symbolOpacity":0,"labelOffset":0,"columnPadding":12,"gridAlign":"all","encode":{"labels":{"update":{"fill":{"scale":"color","field":"value"}}}}}}
}},
{"data":{"name":"ev"},"mark":{"type":"point","shape":"square","filled":true,"size":8,"opacity":1,"strokeWidth":0},
"encoding":{
"x":{"field":"t","type":"quantitative","scale":{"domain":[0,24],"nice":false,"zero":false},"axis":{"orient":"top","values":[0,1,2,3,4,5,6,7,8,9,10,11,12,13,14,15,16,17,18,19,20,21,22,23,24],"labels":false,"title":null,"tickSize":{"condition":{"test":"datum.value % 6 === 0","value":6},"value":4}}},
"y":{"field":"a","type":"quantitative","scale":{"domain":[-90,90],"nice":false,"zero":false},"axis":{"orient":"right","values":[-80,-70,-60,-50,-40,-30,-20,-10,0,10,20,30,40,50,60,70,80],"labels":false,"title":null,"tickSize":6}},
"color":{"field":"f","type":"nominal","scale":{"domain":["52","100","120","148","272","540","940"],"range":["#ff0000","#ffa500","#c8c800","#00ff00","#00a0ff","#0000ff","#a020f0"]}}
}},
{"data":{"name":"sat"},"mark":{"type":"line","color":"#ff0000","strokeWidth":3.5},
"encoding":{"x":{"field":"t","type":"quantitative","scale":{"domain":[0,24],"nice":false,"zero":false},"axis":null},"y":{"field":"a","type":"quantitative","scale":{"domain":[-90,90],"nice":false,"zero":false},"axis":null}}},
{"data":{"name":"jup"},"mark":{"type":"line","color":"#000000","strokeWidth":3.5},
"encoding":{"x":{"field":"t","type":"quantitative","scale":{"domain":[0,24],"nice":false,"zero":false},"axis":null},"y":{"field":"a","type":"quantitative","scale":{"domain":[-90,90],"nice":false,"zero":false},"axis":null}}},
{"data":{"name":"pl"},"mark":{"type":"text","align":"left","baseline":"middle","dx":3,"dy":-1,"fontSize":14,"font":"Liberation Sans","color":"#000000"},
"encoding":{"x":{"field":"t","type":"quantitative","scale":{"domain":[0,24],"nice":false,"zero":false},"axis":null},"y":{"field":"a","type":"quantitative","scale":{"domain":[-90,90],"nice":false,"zero":false},"axis":null},"text":{"field":"l"}}}
],
"resolve":{"axis":{"x":"independent","y":"independent"}}
},
{
"width":450,"height":210,
"layer":[
{"data":{"name":"int"},"mark":{"type":"line","strokeWidth":2.4},
"encoding":{
"x":{"field":"t","type":"quantitative","scale":{"domain":[0,24],"nice":false,"zero":false},"axis":{"orient":"bottom","values":[0,1,2,3,4,5,6,7,8,9,10,11,12,13,14,15,16,17,18,19,20,21,22,23,24],"labelExpr":"datum.value % 6 === 0 ? '' + datum.value : ''","labelFlush":false,"labelPadding":9,"tickSize":{"condition":{"test":"datum.value % 6 === 0","value":6},"value":4},"title":"time - hours on 2001-07-30","titlePadding":8}},
"y":{"field":"v","type":"quantitative","scale":{"type":"log","domain":[0.01,10],"nice":false},"axis":{"orient":"left","values":[0.01,0.02,0.05,0.1,0.2,0.5,1,2,5,10],"labelExpr":"indexof([0.01,0.1,1,10], datum.value) >= 0 ? format(datum.value, '.2f') : ''","labelPadding":6,"labelBaseline":{"condition":{"test":"datum.value === 10","value":"top"},"value":"middle"},"tickSize":{"condition":{"test":"indexof([0.01,0.1,1,10], datum.value) >= 0","value":9},"value":4.5},"title":"Intensity (microvolt/sqrt(Hz))","titleX":-68,"titleY":105,"titleBaseline":"middle","titleAngle":-90,"titleAlign":"center"}},
"color":{"field":"f","type":"nominal","scale":{"domain":["52","100","120","148","272","540","940"],"range":["#ff0000","#ffa500","#c8c800","#00ff00","#00a0ff","#0000ff","#a020f0"]}}
}},
{"data":{"name":"ipt"},"mark":{"type":"point","shape":"square","filled":true,"size":7,"opacity":1,"strokeWidth":0},
"encoding":{
"x":{"field":"t","type":"quantitative","scale":{"domain":[0,24],"nice":false,"zero":false},"axis":{"orient":"top","values":[0,1,2,3,4,5,6,7,8,9,10,11,12,13,14,15,16,17,18,19,20,21,22,23,24],"labels":false,"title":null,"tickSize":{"condition":{"test":"datum.value % 6 === 0","value":6},"value":4}}},
"y":{"field":"v","type":"quantitative","scale":{"type":"log","domain":[0.01,10],"nice":false},"axis":{"orient":"right","values":[0.02,0.05,0.1,0.2,0.5,1,2,5],"labels":false,"title":null,"tickSize":8}},
"color":{"field":"f","type":"nominal","scale":{"domain":["52","100","120","148","272","540","940"],"range":["#ff0000","#ffa500","#c8c800","#00ff00","#00a0ff","#0000ff","#a020f0"]}}
}}
],
"resolve":{"axis":{"x":"independent","y":"independent"}}
}
],
"config":{
"font":"Liberation Sans",
"view":{"stroke":null},
"axis":{"grid":false,"domainColor":"#000000","tickColor":"#000000","labelColor":"#000000","titleColor":"#000000","labelFont":"Liberation Sans","titleFont":"Liberation Sans","labelFontSize":14,"labelFontWeight":"bold","titleFontSize":14.5,"titleFontWeight":"normal","labelOverlap":false,"tickWidth":1,"domainWidth":1}
}
}
